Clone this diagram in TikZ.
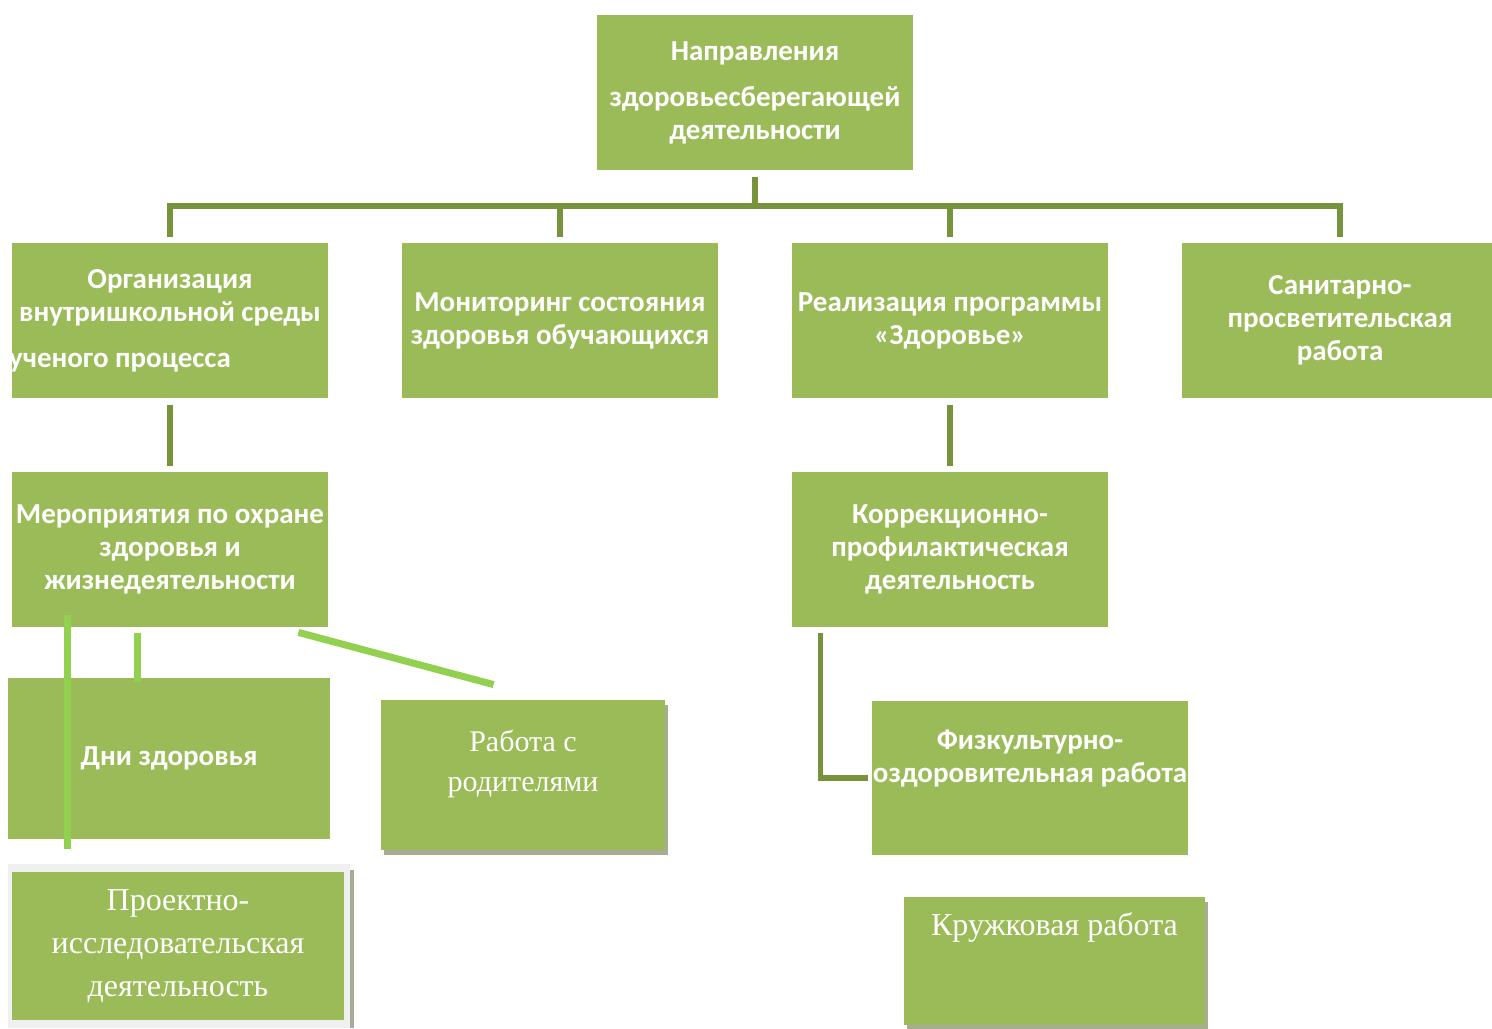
\documentclass[tikz,border=0pt]{standalone}
\usepackage{fontspec}
\setmainfont{Liberation Serif}
\setsansfont{Carlito}
\usepackage{tikz}
\usetikzlibrary{shadows}
\definecolor{boxgreen}{RGB}{155,187,89}
\definecolor{linegreen}{RGB}{119,147,60}
\definecolor{lightgreen}{RGB}{146,208,80}
\definecolor{shadowgray}{RGB}{166,172,150}
\definecolor{framegray}{RGB}{240,240,240}
\tikzset{
    %Define style for boxes
    block/.style={
           rectangle,
           fill=boxgreen,
           inner sep=0pt,
           minimum width=158pt,
           minimum height=77.5pt,
           text=white,
           font=\sffamily\bfseries\fontsize{14.5}{16.5}\selectfont,
           align=center},
    plainblock/.style={
           block,
           font=\rmfamily\fontsize{15}{20}\selectfont},
    shadowed/.style={
           drop shadow={shadow xshift=1.5pt, shadow yshift=-2.5pt,
                        fill=shadowgray, opacity=1}},
    %Define style for text placed at the top of a box
    inlabel/.style={
           text=white,
           inner sep=0pt,
           align=center,
           anchor=north},
    % Define line styles
    conn/.style={
           draw=linegreen,
           line width=2.75pt},
    brightconn/.style={
           draw=lightgreen,
           line width=3.5pt}
}
\begin{document}
\begin{tikzpicture}[x=0.5pt,y=-0.5pt]
\useasboundingbox (0,0) rectangle (1492,1028);
\node[block](top) at (755,92.5){Направления\\[6.5pt]здоровьесберегающей\\деятельности};
\node[block](org) at (170,320.5){Организация\\внутришкольной среды\\[6.5pt]\hspace*{-50pt}ученого процесса};
\node[block](mon) at (560,320.5){Мониторинг состояния\\здоровья обучающихся};
\node[block](real) at (950,320.5){Реализация программы\\«Здоровье»};
\node[block](san) at (1340,320.5){Санитарно-\\просветительская\\работа};
\node[block](mer) at (170,549.5){Мероприятия по охране\\здоровья и\\жизнедеятельности};
\node[block](korr) at (950,549.5){Коррекционно-\\профилактическая\\деятельность};
\node[block, minimum width=161pt, minimum height=80.5pt](dni) at (169,758.5){Дни здоровья};
\node[plainblock, shadowed, minimum width=142pt, minimum height=75pt,
  label={[inlabel, font=\rmfamily\fontsize{15}{20}\selectfont, yshift=-15pt]north:Работа с\\родителями}](rab) at (523,775){};
\node[block, minimum height=77pt,
  label={[inlabel, font=\sffamily\bfseries\fontsize{14.5}{16.5}\selectfont, yshift=-14.5pt]north:Физкультурно-\\оздоровительная работа}](fiz) at (1030,778){};
\node[plainblock, shadowed, minimum width=150.5pt, minimum height=64pt,
  label={[inlabel, font=\rmfamily\fontsize{16}{20}\selectfont, yshift=-8pt]north:Кружковая работа}](kruzh) at (1054.5,961){};
% frame round the last box
\fill[framegray] (8,864) rectangle (350,1028);
\fill[shadowgray] (350,870) rectangle (354,1028);
\node[plainblock, minimum width=166pt, minimum height=74pt,
  font=\rmfamily\fontsize{16}{21.5}\selectfont](proj) at (178,946){Проектно-\\исследовательская\\деятельность};
% connectors
\coordinate (bus) at (755,206);
\draw[conn] ([yshift=-3.5pt]top.south) -- (bus);
\draw[conn] ([yshift=3pt]org.north) |- (bus) -| ([yshift=3pt]san.north);
\draw[conn] ([yshift=3pt]mon.north) -- (mon.north |- bus);
\draw[conn] ([yshift=3pt]real.north) -- (real.north |- bus);
\draw[conn] ([yshift=-3.5pt]org.south) -- ([yshift=3pt]mer.north);
\draw[conn] ([yshift=-3.5pt]real.south) -- ([yshift=3pt]korr.north);
\draw[conn] ([xshift=14.5pt,yshift=-3pt]korr.south west) |- ([xshift=-2pt]fiz.west);
\draw[brightconn] ([xshift=28pt,yshift=6pt]mer.south west) -- ([xshift=30pt,yshift=-5pt]dni.south west);
\draw[brightconn] ([xshift=63pt,yshift=-3pt]mer.south west) -- ([xshift=65pt,yshift=-2pt]dni.north west);
\draw[brightconn] ([xshift=-15pt,yshift=-2.5pt]mer.south east) -- ([xshift=56.5pt,yshift=7.5pt]rab.north west);
\end{tikzpicture}
\end{document}
